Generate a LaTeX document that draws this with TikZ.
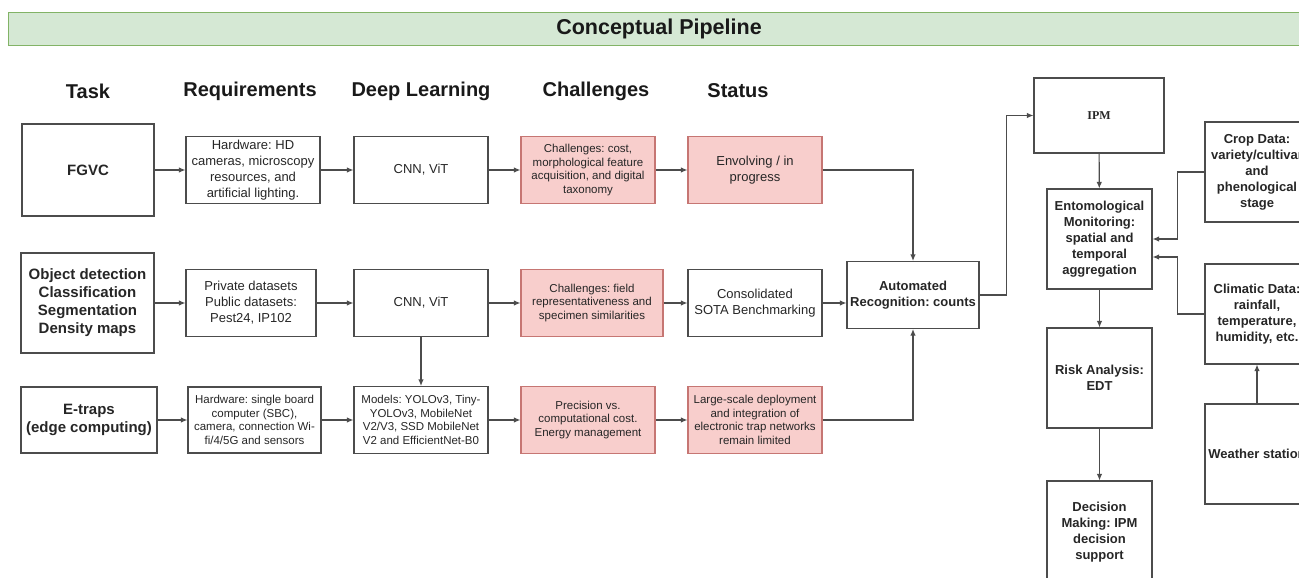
\documentclass[tikz,border=0pt]{standalone}
\usepackage{fontspec}
\setmainfont{Liberation Sans}
\newfontfamily\ipmfont{Liberation Serif}
\usetikzlibrary{arrows.meta}
\frenchspacing
\definecolor{banner}{HTML}{D5E8D4}
\definecolor{bannerline}{HTML}{82B366}
\definecolor{pink}{HTML}{F8CECC}
\definecolor{pinkline}{HTML}{B85450}

\begin{document}
\begin{tikzpicture}[x=1pt,y=-1pt,->,>={Latex[length=6.5pt,width=5.5pt]},draw=black!70,line width=1.1pt]
		\tikzstyle{box}=[draw=black!70,rectangle,align=center,inner sep=2pt,text=black!85,font=\fontsize{13}{16}\selectfont]
		\tikzstyle{small}=[box,font=\fontsize{11.5}{13.5}\selectfont]
		\tikzstyle{strong}=[box,font=\fontsize{13}{16}\selectfont\bfseries]
		\tikzstyle{task}=[box,font=\fontsize{15}{18}\selectfont\bfseries]
		\tikzstyle{issue}=[fill=pink,draw=pinkline!80]
		\tikzstyle{std}=[minimum width=134pt,minimum height=67pt]
		\tikzstyle{col}=[strong,minimum width=105pt,minimum height=100pt]
		\tikzstyle{side}=[strong,minimum width=104pt,minimum height=100pt]
		\tikzstyle{head}=[text=black!90,font=\fontsize{20}{22}\selectfont\bfseries]
		
		\useasboundingbox (0,0) rectangle (1299,578);
		\clip (0,0) rectangle (1299,578);
		
		\filldraw[-,fill=banner,draw=bannerline,line width=0.8pt] (8,12) rectangle (1312,45);
		\node[text=black!90,font=\fontsize{21.5}{24}\selectfont\bfseries] (title) at (659,29) {Conceptual Pipeline};
		
		\node[head] (hTask) at (88,91) {Task};
		\node[head] (hReq) at (250,91) {Requirements};
		\node[head] (hDL) at (421,91) {Deep Learning};
		\node[head] (hCh) at (596,91) {Challenges};
		\node[head] (hSt) at (738,91) {Status};
		
		\node[task,minimum width=132pt,minimum height=92pt] (fgvc) at (88,170) {FGVC};
		\node[box,std] (req1) at (253,170) {Hardware: HD\\cameras, microscopy\\resources, and\\artificial lighting.};
		\node[box,std] (dl1) at (421,170) {CNN, ViT};
		\node[small,issue,std] (ch1) at (588,170) {Challenges: cost,\\morphological feature\\acquisition, and digital\\taxonomy};
		\node[box,issue,std] (st1) at (755,170) {Envolving / in\\progress};
		
		\node[task,minimum width=133pt,minimum height=100pt] (task2) at (87.5,303) {Object detection\\Classification\\Segmentation\\Density maps};
		\node[box,minimum width=130pt,minimum height=67pt] (req2) at (251,303) {Private datasets\\Public datasets:\\Pest24, IP102};
		\node[box,std] (dl2) at (421,303) {CNN, ViT};
		\node[small,issue,minimum width=142pt,minimum height=67pt] (ch2) at (592,303) {Challenges: field\\representativeness and\\specimen similarities};
		\node[box,std] (st2) at (755,303) {Consolidated\\SOTA Benchmarking};
		\node[strong,minimum width=132pt,minimum height=67pt] (auto) at (913,295) {Automated\\Recognition: counts};
		
		\node[task,minimum width=136pt,minimum height=66pt] (task3) at (89,420) {E-traps\\(edge computing)};
		\node[small,minimum width=133pt,minimum height=66pt] (req3) at (254.5,420) {Hardware: single board\\computer (SBC),\\camera, connection Wi-\\fi/4/5G and sensors};
		\node[small,std] (dl3) at (421,420) {Models: YOLOv3, Tiny-\\YOLOv3, MobileNet\\V2/V3, SSD MobileNet\\V2 and EfficientNet-B0};
		\node[small,issue,std] (ch3) at (588,420) {Precision vs.\\computational cost.\\Energy management};
		\node[small,issue,std] (st3) at (755,420) {Large-scale deployment\\and integration of\\electronic trap networks\\remain limited};
		
		\node[box,minimum width=130pt,minimum height=75pt,font=\ipmfont\fontsize{12}{14}\selectfont\bfseries] (ipm) at (1099,115.5) {IPM};
		\node[col] (ento) at (1099.5,239) {Entomological\\Monitoring:\\spatial and\\temporal\\aggregation};
		\node[col] (risk) at (1099.5,378) {Risk Analysis:\\EDT};
		\node[col,minimum height=102pt] (dec) at (1099.5,532) {Decision\\Making: IPM\\decision\\support};
		\node[side] (crop) at (1257,172) {Crop Data:\\variety/cultivar\\and\\phenological\\stage};
		\node[side] (clim) at (1257,314) {Climatic Data:\\rainfall,\\temperature,\\humidity, etc.};
		\node[side] (wx) at (1257,454) {Weather station};
		
		\draw (fgvc) -- (req1);
		\draw (req1) -- (dl1);
		\draw (dl1) -- (ch1);
		\draw (ch1) -- (st1);
		\draw (task2) -- (req2);
		\draw (req2) -- (dl2);
		\draw (dl2) -- (ch2);
		\draw (ch2) -- (st2);
		\draw (st2.east) -- (st2.east -| auto.west);
		\draw (task3) -- (req3);
		\draw (req3) -- (dl3);
		\draw (dl3) -- (ch3);
		\draw (ch3) -- (st3);
		\draw (dl2) -- (dl3);
		\draw (st1) -| (auto);
		\draw (st3) -| (auto);
		\draw (auto.east) -- ++(27,0) |- (ipm.west);
		\draw (ipm) -- (ento);
		\draw (ento) -- (risk);
		\draw (risk) -- (dec);
		\draw (crop.west) -- ++(-27,0) |- (ento.east);
		\draw (clim.west) -- ++(-27,0) |- ([yshift=-18pt]ento.east);
		\draw (wx) -- (clim);
		\end{tikzpicture}
\end{document}
